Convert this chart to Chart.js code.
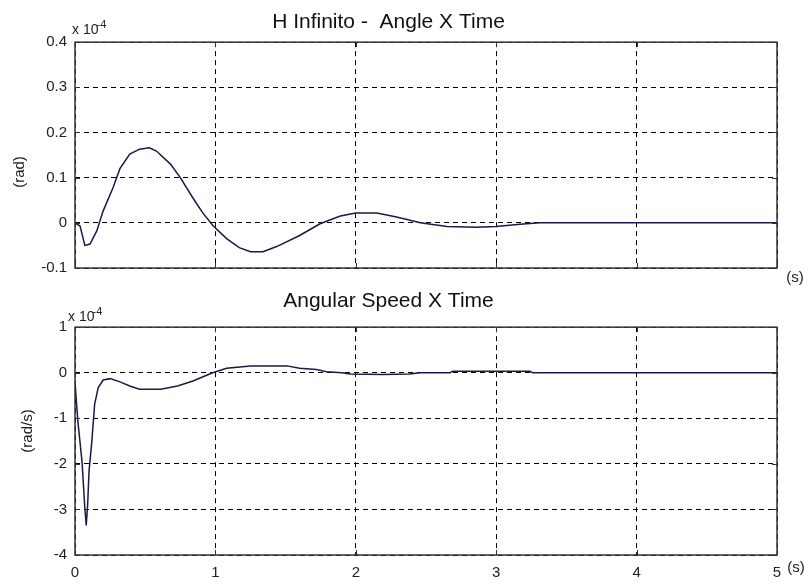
<!DOCTYPE html>
<html><head><meta charset="utf-8">
<script src="https://cdn.jsdelivr.net/npm/chart.js@4/dist/chart.umd.min.js"></script>
<style>
html,body{margin:0;padding:0;background:#fff;}
body{width:811px;height:583px;position:relative;overflow:hidden;font-family:"Liberation Sans",Arial,sans-serif;color:#222;}
canvas{position:absolute;left:0;}
#c1{top:0;}
#c2{top:285px;}
.lbl{position:absolute;font-size:15px;line-height:15px;white-space:nowrap;}
.exp{position:absolute;font-size:14px;line-height:14px;white-space:nowrap;}
.exp sup{font-size:11px;vertical-align:6px;margin-left:-2px;}
.ctr{transform:translate(-50%,-50%);}
.rot{transform:translate(-50%,-50%) rotate(-90deg);}
</style></head>
<body>
<canvas id="c1" width="811" height="285"></canvas>
<canvas id="c2" width="811" height="298"></canvas>
<div class="exp" style="left:72px;top:17px">x 10<sup>-4</sup></div>
<div class="exp" style="left:68px;top:304px">x 10<sup>-4</sup></div>
<div class="lbl rot" style="left:18px;top:172px">(rad)</div>
<div class="lbl rot" style="left:26px;top:431px">(rad/s)</div>
<div class="lbl ctr" style="left:795px;top:276px">(s)</div>
<div class="lbl ctr" style="left:796px;top:566px">(s)</div>
<script>
// ---- data (values in units of 1e-4) ----
const angleTime   = [0, 0.036, 0.07, 0.107, 0.155, 0.2, 0.27, 0.32, 0.39, 0.46, 0.53, 0.58, 0.68, 0.75, 0.84, 0.91, 0.985, 1.08, 1.17, 1.25, 1.34, 1.44, 1.6, 1.745, 1.89, 2.0, 2.15, 2.29, 2.46, 2.65, 2.86, 3.0, 3.17, 3.31, 4.0, 5.0];
const angleValues = [0, -0.007, -0.05, -0.047, -0.018, 0.026, 0.077, 0.12, 0.152, 0.163, 0.166, 0.159, 0.13, 0.1, 0.055, 0.022, -0.007, -0.035, -0.055, -0.064, -0.064, -0.052, -0.028, -0.002, 0.015, 0.022, 0.022, 0.013, 0, -0.008, -0.01, -0.008, -0.003, 0, 0, 0];
const speedTime   = [0, 0.02, 0.05, 0.07, 0.08, 0.09, 0.1, 0.12, 0.14, 0.165, 0.2, 0.25, 0.32, 0.39, 0.46, 0.61, 0.73, 0.84, 0.98, 1.08, 1.25, 1.51, 1.6, 1.72, 1.79, 1.9, 1.96, 2.19, 2.38, 2.46, 2.67, 2.69, 3.24, 3.26, 5.0];
const speedValues = [-0.2, -1.05, -1.95, -2.97, -3.35, -2.9, -2.16, -1.5, -0.69, -0.33, -0.16, -0.13, -0.2, -0.29, -0.36, -0.36, -0.29, -0.18, 0, 0.1, 0.15, 0.15, 0.1, 0.07, 0.02, 0, -0.03, -0.04, -0.03, 0, 0, 0.03, 0.03, 0, 0];
const timeTickLabels  = ['0', '1', '2', '3', '4', '5'];
const angleTickLabels = ['-0.1', '0', '0.1', '0.2', '0.3', '0.4'];
const speedTickLabels = ['-4', '-3', '-2', '-1', '0', '1'];
const topTitle = 'H Infinito -  Angle X Time';
const bottomTitle = 'Angular Speed X Time';

const FONT = '"Liberation Sans", Arial, sans-serif';
const LINE = '#1a1a48';
const FRAME = '#333333';

const framePlugin = {
  id: 'frame',
  afterDraw(chart) {
    const {ctx, chartArea: a, scales} = chart;
    ctx.save();
    ctx.strokeStyle = FRAME;
    ctx.lineWidth = 1;
    ctx.setLineDash([]);
    const tl = 5;
    scales.x.ticks.forEach(t => {
      const px = Math.round(scales.x.getPixelForValue(t.value)) + 0.5;
      ctx.beginPath();
      ctx.moveTo(px, a.bottom); ctx.lineTo(px, a.bottom - tl);
      ctx.moveTo(px, a.top); ctx.lineTo(px, a.top + tl);
      ctx.stroke();
    });
    scales.y.ticks.forEach(t => {
      const py = Math.round(scales.y.getPixelForValue(t.value)) + 0.5;
      ctx.beginPath();
      ctx.moveTo(a.left, py); ctx.lineTo(a.left + tl, py);
      ctx.moveTo(a.right, py); ctx.lineTo(a.right - tl, py);
      ctx.stroke();
    });
    ctx.lineWidth = 1.5;
    ctx.strokeRect(a.left, a.top, a.right - a.left, a.bottom - a.top);
    ctx.restore();
  }
};

function labelFrom(arr, min, step) {
  return v => { const i = Math.round((v - min) / step); return arr[i] !== undefined ? arr[i] : ''; };
}

function makeChart(id, xs, ys, cfg) {
  return new Chart(document.getElementById(id), {
    type: 'line',
    data: { datasets: [{
      data: xs.map((t, i) => ({x: t, y: ys[i]})),
      borderColor: LINE, borderWidth: 1.5, pointRadius: 0, tension: 0, fill: false
    }]},
    options: {
      responsive: false, animation: false,
      layout: { padding: { left: 0, right: 34, top: 0, bottom: 0 } },
      plugins: {
        legend: { display: false }, tooltip: { enabled: false },
        title: { display: true, text: cfg.title, color: '#111',
                 font: { family: FONT, size: 21, weight: 'normal', lineHeight: 1.15 }, padding: cfg.titlePad }
      },
      scales: {
        x: {
          type: 'linear', min: 0, max: 5,
          ticks: { display: cfg.showX, stepSize: 1, padding: 9, color: '#222',
                   font: { family: FONT, size: 15 }, maxRotation: 0,
                   callback: labelFrom(timeTickLabels, 0, 1) },
          grid: { color: '#000', lineWidth: 1, drawTicks: false },
          border: { display: false, dash: [5, 4] },
          afterFit(s) { s.height = cfg.xHeight; }
        },
        y: {
          type: 'linear', min: cfg.ymin, max: cfg.ymax,
          ticks: { stepSize: cfg.ystep, padding: 8, color: '#222',
                   font: { family: FONT, size: 15 },
                   callback: labelFrom(cfg.ylabels, cfg.ymin, cfg.ystep) },
          grid: { color: '#000', lineWidth: 1, drawTicks: false },
          border: { display: false, dash: [5, 4] },
          afterFit(s) { s.width = 75; }
        }
      }
    },
    plugins: [framePlugin]
  });
}

makeChart('c1', angleTime, angleValues, {
  title: topTitle, titlePad: { top: 10, bottom: 8 }, showX: false, xHeight: 17,
  ymin: -0.1, ymax: 0.4, ystep: 0.1, ylabels: angleTickLabels
});
makeChart('c2', speedTime, speedValues, {
  title: bottomTitle, titlePad: { top: 4, bottom: 14 }, showX: true, xHeight: 28,
  ymin: -4, ymax: 1, ystep: 1, ylabels: speedTickLabels
});
</script>
</body></html>
